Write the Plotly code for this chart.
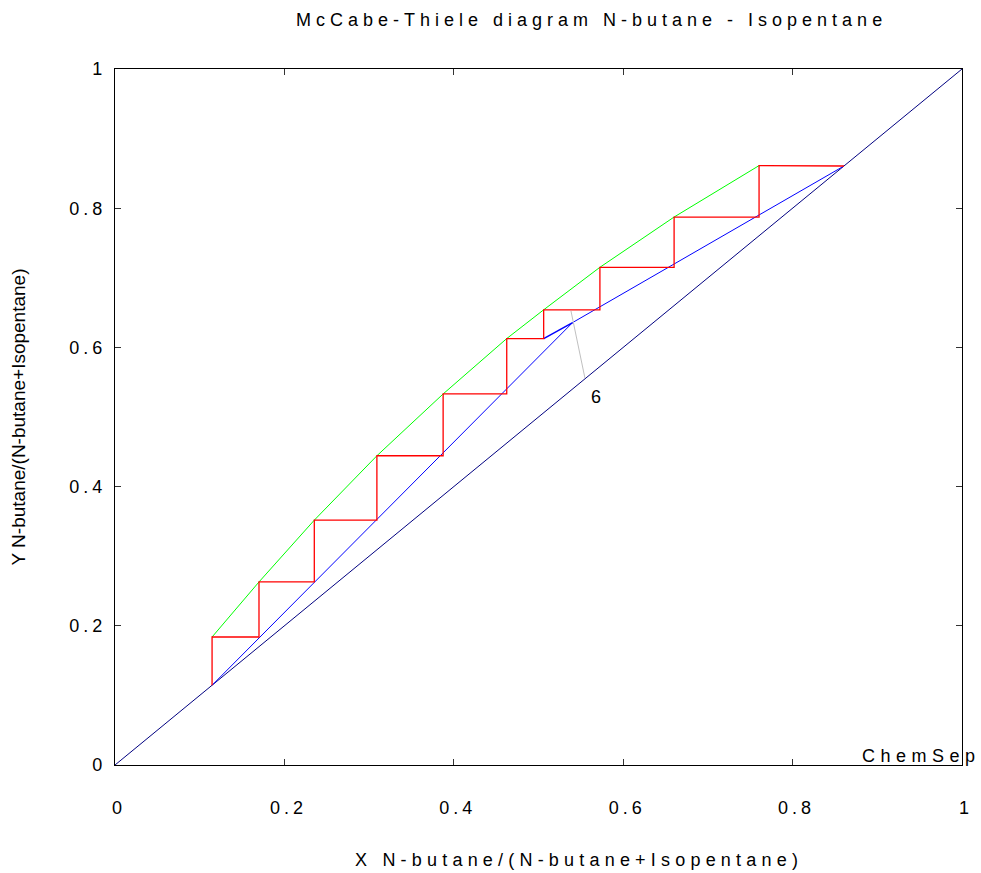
import plotly.graph_objects as go

# ---- data (mole fractions of N-butane) ----
stage_x = [0.7604, 0.6601, 0.5725, 0.5061, 0.4625, 0.3874, 0.3092, 0.2353, 0.1700, 0.1146]
stage_y = [0.8612, 0.7873, 0.7151, 0.6540, 0.6127, 0.5331, 0.4443, 0.3518, 0.2630, 0.1839]
x_D = 0.8606
x_B = 0.1146
op_x = [x_D, 0.5403, x_B]
op_y = [x_D, 0.6357, x_B]
feed_op_x = [0.5061, 0.5403]
feed_op_y = [0.6127, 0.6357]
q_x = [0.5548, 0.5383]
q_y = [0.5561, 0.6525]
feed_label = "6"
feed_label_pos = (0.5678, 0.5281)
tick_vals = [0, 0.2, 0.4, 0.6, 0.8, 1]
tick_text = ["0", "0.2", "0.4", "0.6", "0.8", "1"]

# staircase built from stage compositions
sx, sy = [x_D], [x_D]
for i, (xs, ys) in enumerate(zip(stage_x, stage_y)):
    sx.append(xs); sy.append(ys)
    ynext = stage_y[i + 1] if i + 1 < len(stage_y) else x_B
    sx.append(xs); sy.append(ynext)
    if i + 1 < len(stage_x):
        sx.append(stage_x[i + 1]); sy.append(ynext)

FONT = "Liberation Sans, Arial, sans-serif"

def spaced(t, ls=4):
    return f'<span style="letter-spacing:{ls}px">{t}</span>'

fig = go.Figure()
fig.add_trace(go.Scatter(x=[0, 1], y=[0, 1], mode="lines",
                         line=dict(color="#000080", width=1)))
fig.add_trace(go.Scatter(x=op_x, y=op_y, mode="lines",
                         line=dict(color="#0000ff", width=1)))
fig.add_trace(go.Scatter(x=feed_op_x, y=feed_op_y, mode="lines",
                         line=dict(color="#0000ff", width=1.5)))
fig.add_trace(go.Scatter(x=stage_x[::-1], y=stage_y[::-1], mode="lines",
                         line=dict(color="#00ff00", width=1)))
fig.add_trace(go.Scatter(x=sx, y=sy, mode="lines",
                         line=dict(color="#ff0000", width=1.3)))
fig.add_trace(go.Scatter(x=q_x, y=q_y, mode="lines",
                         line=dict(color="#c0c0c0", width=1)))

fig.add_annotation(x=feed_label_pos[0], y=feed_label_pos[1], text=feed_label,
                   showarrow=False, font=dict(family=FONT, size=18, color="black"))
fig.add_annotation(x=1.0, y=0.0, xref="paper", yref="paper",
                   text=spaced("ChemSep", 5.5), showarrow=False,
                   xanchor="center", yanchor="bottom", xshift=-41, yshift=-3,
                   font=dict(family=FONT, size=18, color="black"))
fig.add_annotation(x=0.548, y=0.0, xref="paper", yref="paper",
                   text=spaced("X N-butane/(N-butane+Isopentane)", 5.2),
                   showarrow=False, xanchor="center", yanchor="middle",
                   yshift=-95, font=dict(family=FONT, size=18, color="black"))

axis_common = dict(range=[0, 1], showgrid=False, zeroline=False,
                   showline=True, linecolor="black", linewidth=1.2,
                   mirror="ticks", ticks="inside", ticklen=6, tickcolor="#333333",
                   tickwidth=1, tickvals=tick_vals, automargin=False,
                   ticktext=[spaced(t, 4) for t in tick_text],
                   tickfont=dict(family=FONT, size=18, color="black"))

fig.update_xaxes(**axis_common, ticklabelstandoff=26, ticklabelshift=4)
fig.update_yaxes(**axis_common, ticklabelstandoff=4,
                 title=dict(text="Y N-butane/(N-butane+Isopentane)",
                            font=dict(family=FONT, size=19, color="black"),
                            standoff=38))

fig.update_layout(
    width=981, height=873,
    margin=dict(l=115, r=19, t=69, b=108),
    paper_bgcolor="white", plot_bgcolor="white",
    showlegend=False,
    title=dict(text=spaced("McCabe-Thiele diagram N-butane - Isopentane", 5),
               x=0.603, xanchor="center", y=0.978, yanchor="middle",
               font=dict(family=FONT, size=18, color="black")),
)

fig.write_html("out.html")
